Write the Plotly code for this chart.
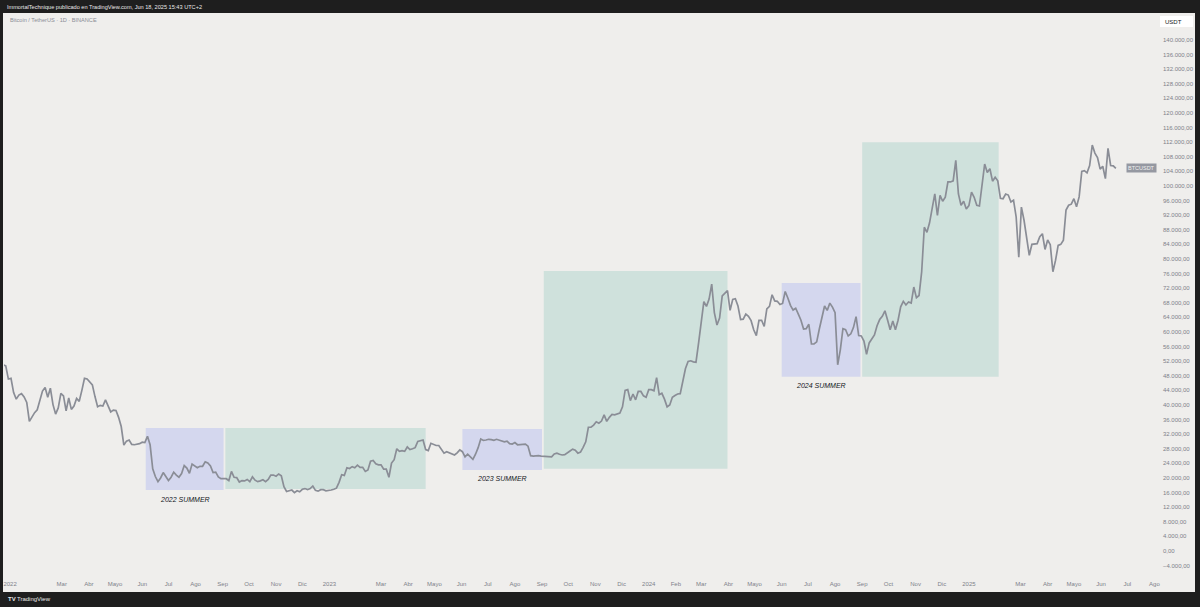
import plotly.graph_objects as go
import pandas as pd

# ---------------- DATA ----------------
start_date = "2021-12-24"
step_days = 3
# BTC/USDT price read every 3 days (thousands of USDT)
close_prices_k = [
    # Dec 2021
    51.0, 50.7, 47.1,
    # Jan 2022
    47.3, 43.4, 41.6, 42.7, 43.1, 42.2, 40.7, 35.5, 36.8, 37.9,
    # Feb 2022
    38.7, 41.6, 43.8, 44.8, 42.1, 44.6, 40.1, 37.5, 39.2, 43.2,
    # Mar 2022
    42.5, 38.4, 41.9, 38.8, 39.7, 41.8, 41.0, 44.0, 47.3, 47.1,
    # Apr 2022
    46.4, 45.5, 42.3, 39.5, 39.9, 39.7, 41.4, 39.5, 38.1, 38.6,
    # May 2022
    38.5, 36.6, 34.1, 29.0, 30.1, 30.4, 29.2, 29.1, 29.2, 29.4,
    # Jun 2022
    29.8, 29.7, 31.4, 29.1, 22.5, 20.4, 19.0, 20.0, 21.5, 20.3,
    # Jul 2022
    19.3, 20.2, 21.6, 20.8, 20.2, 21.2, 23.4, 22.7, 21.3, 23.8, 23.3,
    # Aug 2022
    22.8, 23.2, 23.2, 24.4, 24.1, 23.3, 21.5, 21.6, 20.3, 19.8,
    # Sep 2022
    19.9, 19.8, 19.3, 21.8, 20.2, 20.1, 18.9, 19.3, 19.2, 19.6,
    # Oct 2022
    19.0, 20.3, 19.4, 19.0, 19.2, 19.5, 19.0, 19.6, 20.8, 20.8,
    # Nov 2022
    20.5, 21.1, 20.6, 17.6, 16.3, 16.6, 16.7, 16.0, 16.5, 16.2,
    # Dec 2022
    16.9, 17.1, 16.8, 17.1, 17.8, 16.6, 16.4, 16.8, 16.8, 16.5, 16.5,
    # Jan 2023
    16.7, 16.9, 17.2, 18.8, 20.9, 20.7, 22.8, 22.6, 23.1, 22.8,
    # Feb 2023
    23.5, 22.9, 22.9, 21.8, 22.2, 24.6, 24.8, 23.9, 23.6,
    # Mar 2023
    23.6, 22.4, 22.4, 20.2, 24.1, 25.0, 28.0, 27.3, 27.5, 27.3, 28.5,
    # Apr 2023
    27.8, 28.0, 28.3, 30.0, 30.3, 30.4, 27.8, 27.5, 29.5, 29.2,
    # May 2023
    28.9, 28.9, 27.7, 26.8, 27.2, 26.9, 26.7, 26.3, 26.9, 27.7,
    # Jun 2023
    27.2, 25.8, 26.5, 25.9, 25.1, 26.5, 28.3, 30.7, 30.3, 30.4,
    # Jul 2023
    30.6, 30.5, 30.3, 30.6, 30.3, 30.1, 29.9, 30.1, 29.4, 29.3,
    # Aug 2023
    29.7, 29.1, 29.2, 29.4, 29.3, 28.7, 26.1, 26.0, 26.1, 26.1, 26.0,
    # Sep 2023
    25.9, 25.8, 25.9, 25.8, 26.6, 26.8, 26.5, 26.3, 26.4, 27.0,
    # Oct 2023
    27.4, 27.9, 27.6, 26.8, 27.1, 28.4, 29.9, 33.9, 33.9, 34.5,
    # Nov 2023
    35.4, 35.0, 35.6, 37.3, 35.5, 36.6, 37.4, 37.3, 37.5, 37.8,
    # Dec 2023
    39.5, 44.0, 44.2, 41.2, 43.0, 41.4, 43.7, 43.7, 42.5, 42.1,
    # Jan 2024
    44.2, 44.2, 43.9, 47.5, 42.8, 43.2, 41.6, 39.5, 40.0, 42.1, 42.6,
    # Feb 2024
    43.0, 43.1, 47.1, 50.0, 51.9, 52.1, 51.8, 51.7, 57.0,
    # Mar 2024
    62.4, 68.3, 67.0, 69.0, 73.1, 65.3, 61.9, 63.8, 69.9, 70.7, 71.3,
    # Apr 2024
    65.9, 68.9, 69.1, 67.1, 63.4, 63.5, 64.9, 64.3, 63.1, 60.6,
    # May 2024
    59.0, 63.2, 63.2, 61.5, 66.3, 67.0, 70.2, 68.5, 68.4, 67.5,
    # Jun 2024
    67.8, 71.1, 69.3, 67.3, 66.0, 66.5, 64.9, 63.2, 60.8, 60.9,
    # Jul 2024
    62.1, 56.7, 56.7, 57.3, 60.8, 64.0, 67.1, 65.9, 67.9, 66.8,
    # Aug 2024
    65.3, 51.0, 55.1, 60.9, 60.6, 58.9, 59.5, 61.2, 64.2, 59.0, 58.9,
    # Sep 2024
    57.5, 53.9, 57.0, 58.1, 59.2, 61.7, 63.4, 64.3, 65.8, 63.3,
    # Oct 2024
    60.6, 63.0, 60.6, 63.2, 66.9, 68.4, 67.4, 68.2, 67.9, 72.3,
    # Nov 2024
    69.4, 70.0, 76.5, 88.7, 87.3, 89.9, 94.3, 97.8, 91.9, 97.4,
    # Dec 2024
    95.8, 96.9, 101.1, 101.1, 101.4, 107.0, 97.8, 94.7, 95.8, 93.7,
    # Jan 2025
    94.6, 98.3, 96.9, 94.7, 94.5, 100.5, 106.0, 103.7, 104.7, 101.3, 102.4,
    # Feb 2025
    101.4, 96.6, 96.5, 97.8, 97.5, 95.6, 96.1, 91.5, 80.5,
    # Mar 2025
    94.2, 90.6, 86.1, 81.0, 84.0, 84.1, 84.2, 86.1, 86.9, 82.6,
    # Apr 2025
    85.2, 83.9, 76.5, 79.6, 83.7, 84.0, 85.1, 93.4, 94.7, 95.0,
    # May 2025
    96.5, 94.3, 97.0, 104.0, 104.2, 103.6, 105.6, 111.2, 109.0, 107.8, 104.6,
    # Jun 2025
    105.4, 102.0, 110.3, 105.6, 105.5, 104.8,
]

# Highlighted zones
zone_starts = ["2022-06-05", "2022-09-04", "2023-06-02", "2023-09-03", "2024-06-01", "2024-09-01"]
zone_ends = ["2022-09-02", "2023-04-21", "2023-09-01", "2024-03-31", "2024-08-30", "2025-02-04"]
zone_lows = [16700, 17000, 22200, 22500, 47700, 47700]
zone_highs = [33700, 33700, 33400, 76700, 73400, 112000]
zone_kinds = ["summer", "after", "summer", "after", "summer", "after"]
zone_labels = ["2022 SUMMER", "", "2023 SUMMER", "", "2024 SUMMER", ""]

# Time-axis tick labels
tick_dates = [
    "2022-01-01", "2022-03-01", "2022-04-01", "2022-05-01", "2022-06-01", "2022-07-01",
    "2022-08-01", "2022-09-01", "2022-10-01", "2022-11-01", "2022-12-01",
    "2023-01-01", "2023-03-01", "2023-04-01", "2023-05-01", "2023-06-01", "2023-07-01",
    "2023-08-01", "2023-09-01", "2023-10-01", "2023-11-01", "2023-12-01",
    "2024-01-01", "2024-02-01", "2024-03-01", "2024-04-01", "2024-05-01", "2024-06-01",
    "2024-07-01", "2024-08-01", "2024-09-01", "2024-10-01", "2024-11-01", "2024-12-01",
    "2025-01-01", "2025-03-01", "2025-04-01", "2025-05-01", "2025-06-01", "2025-07-01",
    "2025-08-01",
]
tick_labels = [
    "2022", "Mar", "Abr", "Mayo", "Jun", "Jul", "Ago", "Sep", "Oct", "Nov", "Dic",
    "2023", "Mar", "Abr", "Mayo", "Jun", "Jul", "Ago", "Sep", "Oct", "Nov", "Dic",
    "2024", "Feb", "Mar", "Abr", "Mayo", "Jun", "Jul", "Ago", "Sep", "Oct", "Nov", "Dic",
    "2025", "Mar", "Abr", "Mayo", "Jun", "Jul", "Ago",
]
price_ticks = list(range(-4000, 140001, 4000))

# ---------------- LAYOUT GEOMETRY ----------------
W, H = 1200, 607
ML, MR, MT, MB = 4, 43, 14, 31
PW, PH = W - ML - MR, H - MT - MB


def px(xpix):
    return (xpix - ML) / PW


def py(ypix):
    return (H - MB - ypix) / PH


BG = "#efeeec"
DARK = "#1e1e1e"
SUMMER_FILL = "#d4d7ee"
AFTER_FILL = "#cfe1dc"
LINE = "#8a8d96"
AXIS_TXT = "#7e818a"
FONT = "Liberation Sans"

dates = pd.date_range(start_date, periods=len(close_prices_k), freq=f"{step_days}D")
prices = [v * 1000 for v in close_prices_k]

fig = go.Figure()
fig.add_trace(go.Scatter(
    x=dates, y=prices, mode="lines",
    line=dict(color=LINE, width=1.7), hoverinfo="skip", showlegend=False,
))

shapes = [
    # light chart panel
    dict(type="rect", xref="paper", yref="paper", x0=px(3), x1=px(1195), y0=py(592), y1=py(13),
         fillcolor=BG, line=dict(width=0), layer="below"),
    # USDT box
    dict(type="rect", xref="paper", yref="paper", x0=px(1160), x1=px(1193), y0=py(27), y1=py(16),
         fillcolor="white", line=dict(width=0), layer="above"),
]
annotations = []
for s, e, lo, hi, kind, lab in zip(zone_starts, zone_ends, zone_lows, zone_highs, zone_kinds, zone_labels):
    shapes.append(dict(type="rect", xref="x", yref="y", x0=s, x1=e, y0=lo, y1=hi,
                       fillcolor=SUMMER_FILL if kind == "summer" else AFTER_FILL,
                       line=dict(width=0), layer="below"))
    if lab:
        mid = pd.Timestamp(s) + (pd.Timestamp(e) - pd.Timestamp(s)) / 2
        annotations.append(dict(x=mid, y=lo, xref="x", yref="y", text=f"<i>{lab}</i>",
                                showarrow=False, yshift=-9, yanchor="middle",
                                font=dict(family=FONT, size=7, color="#131722")))

annotations += [
    dict(x=px(5), y=py(7), xref="paper", yref="paper", xanchor="left", yanchor="middle",
         text="ImmortalTechnique publicado en TradingView.com, Jun 18, 2025 15:43 UTC+2",
         showarrow=False, font=dict(family=FONT, size=5.6, color="#e8e8e8")),
    dict(x=px(8), y=py(20), xref="paper", yref="paper", xanchor="left", yanchor="middle",
         text="Bitcoin / TetherUS · 1D · BINANCE",
         showarrow=False, font=dict(family=FONT, size=5.6, color="#8a8d96")),
    dict(x=px(1163), y=py(21.5), xref="paper", yref="paper", xanchor="left", yanchor="middle",
         text="USDT", showarrow=False, font=dict(family=FONT, size=6, color="#131722")),
    dict(x=px(1157), y=prices[-1], xref="paper", yref="y", xanchor="right", yanchor="middle",
         text="BTCUSDT", showarrow=False, bgcolor="#9598a1", borderpad=1,
         font=dict(family=FONT, size=5.5, color="#f0f0f0")),
    dict(x=px(6), y=py(599), xref="paper", yref="paper", xanchor="left", yanchor="middle",
         text="<b>TV</b>", showarrow=False, font=dict(family=FONT, size=6, color="#e8e8e8")),
    dict(x=px(15), y=py(599), xref="paper", yref="paper", xanchor="left", yanchor="middle",
         text="TradingView", showarrow=False, font=dict(family=FONT, size=6, color="#e8e8e8")),
]

fig.update_layout(
    width=W, height=H,
    margin=dict(l=ML, r=MR, t=MT, b=MB, pad=0),
    paper_bgcolor=DARK, plot_bgcolor=BG,
    separators=",.",
    showlegend=False,
    hovermode=False,
    shapes=shapes,
    annotations=annotations,
    xaxis=dict(
        range=["2021-12-25", "2025-08-04"], type="date",
        tickvals=tick_dates, ticktext=tick_labels,
        showgrid=False, zeroline=False, showline=False, ticks="",
        tickfont=dict(family=FONT, size=6, color=AXIS_TXT),
        ticklabelstandoff=3, fixedrange=True,
    ),
    yaxis=dict(
        side="right", range=[-6850, 147100],
        tickvals=price_ticks, tickformat=",.2f",
        showgrid=False, zeroline=False, showline=False, ticks="",
        tickfont=dict(family=FONT, size=6, color=AXIS_TXT),
        ticklabelstandoff=5, fixedrange=True,
    ),
)

fig.write_html(
    "out.html",
    config={"displayModeBar": False},
    post_script="document.body.style.margin='0';document.body.style.padding='0';"
                "document.body.style.overflow='hidden';",
)
